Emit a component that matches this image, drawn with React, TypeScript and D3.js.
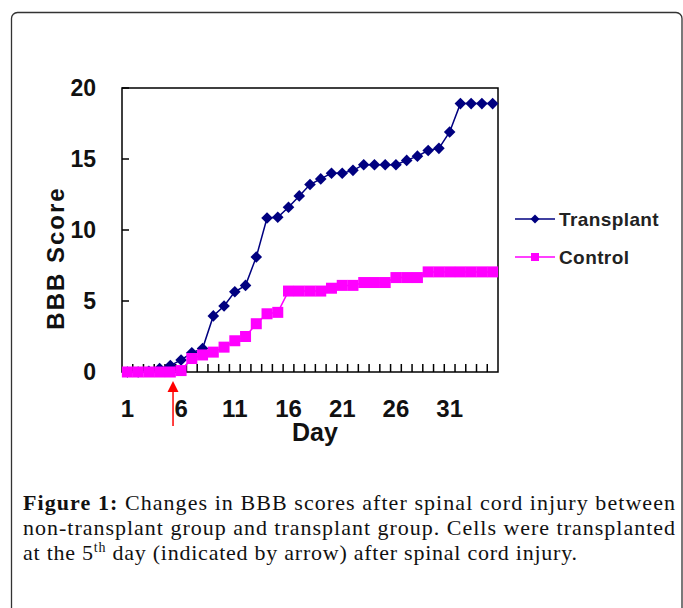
import React from "react";
import * as d3 from "d3";

// days 1..35
const days = d3.range(1, 36);
const dayLabels = [1, 6, 11, 16, 21, 26, 31];
const yTicks = [0, 5, 10, 15, 20];

// BBB score
const transplant = [
  0, 0, 0.05, 0.25, 0.45, 0.85, 1.35, 1.65, 3.95, 4.65,
  5.65, 6.1, 8.1, 10.85, 10.9, 11.6, 12.4, 13.2, 13.6, 14.0,
  14.0, 14.2, 14.6, 14.6, 14.6, 14.6, 14.9, 15.2, 15.6, 15.75,
  16.9, 18.9, 18.9, 18.9, 18.9,
];
const control = [
  0, 0, 0, 0, 0, 0.1, 0.95, 1.2, 1.4, 1.75,
  2.2, 2.5, 3.4, 4.1, 4.2, 5.7, 5.7, 5.7, 5.7, 5.9,
  6.1, 6.1, 6.3, 6.3, 6.3, 6.65, 6.65, 6.65, 7.05, 7.05,
  7.05, 7.05, 7.05, 7.05, 7.05,
];
const arrowDay = 5.25; // cells transplanted on day 5

const W = 683, H = 608;
const left = 122, right = 498, top = 88, bottom = 372;

const navy = "#000080";
const magenta = "#ff00ff";
const sans = "'Liberation Sans', Arial, sans-serif";
const serif = "'Liberation Serif', 'Times New Roman', serif";

export default function App() {
  const x = d3.scaleLinear().domain([0.5, 35.5]).range([left, right]);
  const y = d3.scaleLinear().domain([0, 20]).range([bottom, top]);

  const line = d3.line<number>().x((d, i) => x(days[i])).y((d) => y(d));

  const diamond = (r: number) => `M0,${-r}L${r},0L0,${r}L${-r},0Z`;

  // category boundaries for x ticks
  const xTickPos = d3.range(1, 35).map((k) => x(k + 0.5));

  const ax = x(arrowDay);

  return (
    <svg
      width={W}
      height={H}
      style={{ position: "absolute", left: 0, top: 0, background: "#fff" }}
    >
      {/* outer frame */}
      <rect x={11.5} y={12.5} width={670.5} height={700} rx={6} fill="none" stroke="#333" strokeWidth={1.3} />

      {/* plot box */}
      <rect x={left} y={top} width={right - left} height={bottom - top} fill="none" stroke="#000" strokeWidth={1.5} />

      {/* y ticks */}
      {yTicks.map((t) => (
        <g key={t}>
          <line x1={left} x2={left + 7} y1={y(t)} y2={y(t)} stroke="#000" strokeWidth={1.5} />
          <text x={96} y={y(t) + 8} textAnchor="end" fontFamily={sans} fontWeight="bold" fontSize={23} fill="#111">
            {t}
          </text>
        </g>
      ))}

      {/* x ticks */}
      {xTickPos.map((p, i) => (
        <line key={i} x1={p} x2={p} y1={bottom} y2={bottom - 8} stroke="#000" strokeWidth={1.5} />
      ))}
      {dayLabels.map((d) => (
        <text key={d} x={x(d)} y={417} textAnchor="middle" fontFamily={sans} fontWeight="bold" fontSize={24} fill="#111">
          {d}
        </text>
      ))}

      {/* axis titles */}
      <text x={315} y={441} textAnchor="middle" fontFamily={sans} fontWeight="bold" fontSize={25} fill="#111">
        Day
      </text>
      <text
        transform={`translate(64,258) rotate(-90)`}
        textAnchor="middle"
        fontFamily={sans}
        fontWeight="bold"
        fontSize={24}
        letterSpacing={2}
        fill="#111"
      >
        BBB Score
      </text>

      {/* transplant series */}
      <path d={line(transplant) ?? ""} fill="none" stroke={navy} strokeWidth={1.5} />
      {transplant.map((v, i) => (
        <path key={i} d={diamond(5.8)} transform={`translate(${x(days[i])},${y(v)})`} fill={navy} />
      ))}

      {/* control series */}
      <path d={line(control) ?? ""} fill="none" stroke={magenta} strokeWidth={1.5} />
      {control.map((v, i) => (
        <rect key={i} x={x(days[i]) - 5.5} y={y(v) - 5.5} width={11} height={11} fill={magenta} />
      ))}

      {/* arrow */}
      <line x1={ax} x2={ax} y1={390} y2={426} stroke="#ff0000" strokeWidth={1.5} />
      <path d={`M${ax},381L${ax + 5.5},392L${ax - 5.5},392Z`} fill="#ff0000" />

      {/* legend */}
      <g>
        <line x1={515} x2={555} y1={219} y2={219} stroke={navy} strokeWidth={1.5} />
        <path d={diamond(4.5)} transform="translate(535,219)" fill={navy} />
        <text x={559} y={226} fontFamily={sans} fontWeight="bold" fontSize={19} letterSpacing={0.4} fill="#222">
          Transplant
        </text>
        <line x1={515} x2={555} y1={257} y2={257} stroke={magenta} strokeWidth={1.5} />
        <rect x={531} y={253} width={8} height={8} fill={magenta} />
        <text x={559} y={264} fontFamily={sans} fontWeight="bold" fontSize={19} letterSpacing={0.4} fill="#222">
          Control
        </text>
      </g>

      {/* caption */}
      <g fontFamily={serif} fontSize={22} fill="#111">
        <text x={23} y={510} textLength={652} lengthAdjust="spacing">
          <tspan fontWeight="bold">Figure 1:</tspan> Changes in BBB scores after spinal cord injury between
        </text>
        <text x={23} y={535} textLength={652} lengthAdjust="spacing">
          non-transplant group and transplant group. Cells were transplanted
        </text>
        <text x={23} y={560} textLength={554} lengthAdjust="spacing">
          at the 5<tspan fontSize={14} dy={-8}>th</tspan>
          <tspan dy={8}> day (indicated by arrow) after spinal cord injury.</tspan>
        </text>
      </g>
    </svg>
  );
}
